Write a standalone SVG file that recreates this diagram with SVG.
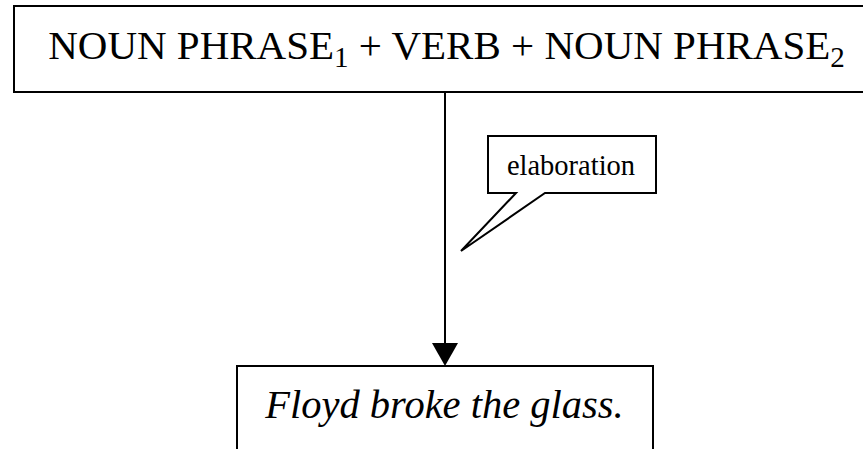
<svg xmlns="http://www.w3.org/2000/svg" width="863" height="449" viewBox="0 0 863 449">
<style>
.box{fill:#fff;stroke:#000;stroke-width:2}
.t{font-family:'Liberation Serif','Times New Roman',serif;fill:#000}
.line{stroke:#000;stroke-width:2;fill:none}
</style>
<rect width="863" height="449" fill="#fff"/>
<g id="connectors">
<line class="line" x1="445" y1="93" x2="445" y2="344"/>
<path d="M432,343 L458,343 L445,366 Z" fill="#000"/>
</g>
<g id="top">
<rect class="box" x="14" y="6" width="860" height="86"/>
<text class="t" x="446.5" y="59" font-size="41" text-anchor="middle">NOUN PHRASE<tspan font-size="29" dy="8">1</tspan><tspan dy="-8"> + VERB + NOUN PHRASE</tspan><tspan font-size="29" dy="8">2</tspan></text>
</g>
<g id="callout">
<path class="line" d="M488,136 L656,136 L656,193 L545,193 L461,251 L516,193 L488,193 Z" fill="#fff" stroke-width="1.8"/>
<text class="t" x="571" y="175" font-size="28.5" text-anchor="middle">elaboration</text>
</g>
<g id="bottom">
<rect class="box" x="237" y="366" width="416" height="100"/>
<text class="t" x="444.5" y="418" font-size="40.5" font-style="italic" text-anchor="middle">Floyd broke the glass.</text>
</g>
</svg>
